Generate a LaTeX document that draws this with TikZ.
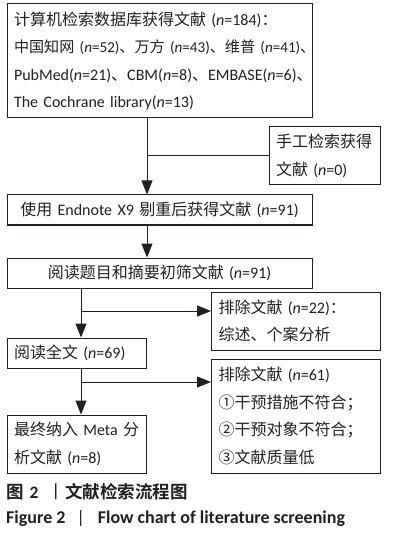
\documentclass[tikz,border=0pt]{standalone}
\usepackage{fontspec}
\setmainfont{Carlito}
\newfontfamily\cjk{Noto Sans CJK SC}[BoldFont={Noto Sans CJK SC Bold}]
\usetikzlibrary{arrows.meta,calc}
\newcommand\zh[1]{{\cjk #1}}
\definecolor{ink}{HTML}{231F20}
\begin{document}
\begin{tikzpicture}[x=1pt,y=-1pt,
  box/.style={draw=ink, line width=1pt, inner xsep=7pt, inner ysep=0pt, align=left,
    text=ink, font=\fontsize{16}{27.4}\selectfont},
  cbox/.style={box, align=center},
  conn/.style={draw=ink, line width=1pt},
  arr/.style={conn, -{Triangle[width=11pt,length=14pt]}}]
\useasboundingbox (0,0) rectangle (413,534);
\node[box, text width=291pt, minimum height=114pt] (b1) at (159.5,61)
  {\mbox{\zh{计算机检索数据库获得文献} (\textit{n}=184)\zh{：}}\\
   \mbox{\fontsize{15.1}{27.4}\selectfont\zh{中国知网} (\textit{n}=52)\zh{、万方} (\textit{n}=43)\zh{、维普} (\textit{n}=41)\zh{、}}\\
   \mbox{PubMed(\textit{n}=21)\zh{、}CBM(\textit{n}=8)\zh{、}EMBASE(\textit{n}=6)\zh{、}}\\
   \mbox{The Cochrane library(\textit{n}=13)}};
\node[box, text width=97pt, minimum height=58pt] (b2) at (324.5,156)
  {\mbox{\zh{手工检索获得}}\\ \zh{文献} (\textit{n}=0)};
\node[cbox, text width=291pt, minimum height=30pt] (b3) at (159.5,210)
  {\zh{使用} Endnote X9 \zh{剔重后获得文献} (\textit{n}=91)};
\node[cbox, text width=291pt, minimum height=30pt] (b4) at (159.5,273)
  {\zh{阅读题目和摘要初筛文献} (\textit{n}=91)};
\node[box, text width=154.5pt, minimum height=58pt] (b6) at (295.75,321)
  {\zh{排除文献} (\textit{n}=22)\zh{：}\\ \zh{综述、个案分析}};
\node[box, text width=125.5pt, minimum height=30pt] (b5) at (76.75,353)
  {\zh{阅读全文} (\textit{n}=69)};
\node[box, text width=154.5pt, minimum height=114pt] (b8) at (295.75,416)
  {\zh{排除文献} (\textit{n}=61)\\ \zh{①干预措施不符合；}\\ \zh{②干预对象不符合；}\\ \zh{③文献质量低}};
\node[box, text width=125.5pt, minimum height=58pt] (b7) at (76.75,444)
  {\mbox{\zh{最终纳入} Meta \zh{分}}\\ \zh{析文献} (\textit{n}=8)};
\coordinate (j1) at (147,156);
\coordinate (j2) at (81,311);
\coordinate (j3) at (81,382);
\draw[arr] (b1.south -| j1) -- (b3.north -| j1);
\draw[conn] (b2.west) -- (b2.west -| j1);
\draw[arr] (b3.south -| j1) -- (b4.north -| j1);
\draw[arr] (b4.south -| j2) -- (b5.north -| j2);
\draw[arr] (j2) -- (j2 -| b6.west);
\draw[arr] (b5.south -| j3) -- (b7.north -| j3);
\draw[arr] (j3) -- (j3 -| b8.west);
\node[anchor=west, inner sep=0pt, text=ink, font=\fontsize{17.5}{20}\selectfont\bfseries] (cap1) at (6,492)
  {\zh{图}\hspace{6pt}2\hspace{9pt}{\cjk\mdseries 丨}\zh{文献检索流程图}};
\node[anchor=west, inner sep=0pt, text=ink, font=\fontsize{18}{20}\selectfont\bfseries] (cap2) at (6,519)
  {Figure 2\hspace{11pt}{\mdseries|}\hspace{13pt}Flow chart of literature screening};
\end{tikzpicture}
\end{document}
